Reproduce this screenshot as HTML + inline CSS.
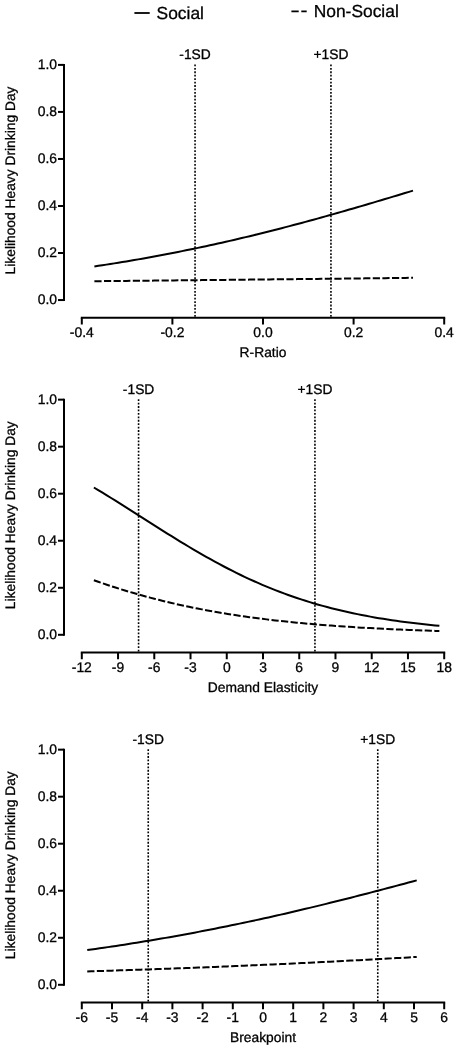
<!DOCTYPE html><html><head><meta charset="utf-8"><style>html,body{margin:0;padding:0;background:#fff;}svg{display:block;will-change:transform;}text{font-family:"Liberation Sans", sans-serif;fill:#000;stroke:#000;stroke-width:0.3px;text-rendering:geometricPrecision;}</style></head><body>
<svg width="457" height="1050" viewBox="0 0 457 1050">
<line x1="134.4" y1="13" x2="149.7" y2="13" stroke="#000" stroke-width="1.8"/>
<text x="156.6" y="18.6" font-size="17.4">Social</text>
<path d="M291.4 11.4H298.7M301.3 11.4H306.7" stroke="#000" stroke-width="1.8"/>
<text x="313.7" y="16.9" font-size="17.4">Non-Social</text>
<path d="M64 63.9V301.05" stroke="#000" stroke-width="2.0" fill="none"/>
<path d="M58 300.05H64" stroke="#000" stroke-width="2.0"/>
<text x="57" y="304.15" font-size="13.9" text-anchor="end">0.0</text>
<path d="M58 253.02H64" stroke="#000" stroke-width="2.0"/>
<text x="57" y="257.12" font-size="13.9" text-anchor="end">0.2</text>
<path d="M58 205.99H64" stroke="#000" stroke-width="2.0"/>
<text x="57" y="210.09" font-size="13.9" text-anchor="end">0.4</text>
<path d="M58 158.96H64" stroke="#000" stroke-width="2.0"/>
<text x="57" y="163.06" font-size="13.9" text-anchor="end">0.6</text>
<path d="M58 111.93H64" stroke="#000" stroke-width="2.0"/>
<text x="57" y="116.03" font-size="13.9" text-anchor="end">0.8</text>
<path d="M58 64.9H64" stroke="#000" stroke-width="2.0"/>
<text x="57" y="69" font-size="13.9" text-anchor="end">1.0</text>
<path d="M80.8 317.8H445.2" stroke="#000" stroke-width="2.0" fill="none"/>
<path d="M81.8 317.8V324.5" stroke="#000" stroke-width="2.0"/>
<text x="81.8" y="336.9" font-size="13.9" text-anchor="middle">-0.4</text>
<path d="M172.4 317.8V324.5" stroke="#000" stroke-width="2.0"/>
<text x="172.4" y="336.9" font-size="13.9" text-anchor="middle">-0.2</text>
<path d="M263 317.8V324.5" stroke="#000" stroke-width="2.0"/>
<text x="263" y="336.9" font-size="13.9" text-anchor="middle">0.0</text>
<path d="M353.6 317.8V324.5" stroke="#000" stroke-width="2.0"/>
<text x="353.6" y="336.9" font-size="13.9" text-anchor="middle">0.2</text>
<path d="M444.2 317.8V324.5" stroke="#000" stroke-width="2.0"/>
<text x="444.2" y="336.9" font-size="13.9" text-anchor="middle">0.4</text>
<text x="263" y="357.35" font-size="13.8" text-anchor="middle">R-Ratio</text>
<text transform="translate(15.15 180.48) rotate(-90)" font-size="13.8" text-anchor="middle">Likelihood Heavy Drinking Day</text>
<path d="M195.05 64.5V317.8" stroke="#000" stroke-width="1.6" stroke-dasharray="1.8 1.63"/>
<text x="195.05" y="58.8" font-size="13.8" text-anchor="middle">-1SD</text>
<path d="M330.95 64.5V317.8" stroke="#000" stroke-width="1.6" stroke-dasharray="1.8 1.63"/>
<text x="330.95" y="58.8" font-size="13.8" text-anchor="middle">+1SD</text>
<polyline points="94.39,266.45 98.38,265.86 102.36,265.25 106.34,264.63 110.32,264 114.31,263.37 118.29,262.72 122.27,262.07 126.25,261.41 130.24,260.74 134.22,260.06 138.2,259.37 142.18,258.67 146.17,257.96 150.15,257.24 154.13,256.51 158.11,255.77 162.09,255.02 166.08,254.27 170.06,253.5 174.04,252.73 178.02,251.94 182.01,251.14 185.99,250.34 189.97,249.52 193.95,248.7 197.94,247.87 201.92,247.02 205.9,246.17 209.88,245.31 213.87,244.43 217.85,243.55 221.83,242.66 225.81,241.76 229.8,240.85 233.78,239.93 237.76,239 241.74,238.06 245.73,237.11 249.71,236.16 253.69,235.19 257.67,234.22 261.66,233.23 265.64,232.24 269.62,231.24 273.6,230.23 277.59,229.21 281.57,228.18 285.55,227.15 289.53,226.11 293.52,225.05 297.5,223.99 301.48,222.93 305.46,221.85 309.44,220.77 313.43,219.68 317.41,218.59 321.39,217.48 325.37,216.37 329.36,215.26 333.34,214.13 337.32,213 341.3,211.87 345.29,210.72 349.27,209.58 353.25,208.43 357.23,207.27 361.22,206.1 365.2,204.94 369.18,203.76 373.16,202.59 377.15,201.41 381.13,200.22 385.11,199.03 389.09,197.84 393.08,196.64 397.06,195.45 401.04,194.25 405.02,193.04 409.01,191.84 412.99,190.63" fill="none" stroke="#000" stroke-width="2"/>
<polyline points="94.39,281.21 98.38,281.17 102.36,281.13 106.34,281.09 110.32,281.05 114.31,281.01 118.29,280.97 122.27,280.93 126.25,280.89 130.24,280.85 134.22,280.81 138.2,280.77 142.18,280.73 146.17,280.69 150.15,280.65 154.13,280.61 158.11,280.57 162.09,280.53 166.08,280.49 170.06,280.45 174.04,280.41 178.02,280.37 182.01,280.33 185.99,280.29 189.97,280.25 193.95,280.21 197.94,280.17 201.92,280.12 205.9,280.08 209.88,280.04 213.87,280 217.85,279.96 221.83,279.92 225.81,279.88 229.8,279.83 233.78,279.79 237.76,279.75 241.74,279.71 245.73,279.67 249.71,279.62 253.69,279.58 257.67,279.54 261.66,279.5 265.64,279.45 269.62,279.41 273.6,279.37 277.59,279.33 281.57,279.28 285.55,279.24 289.53,279.2 293.52,279.16 297.5,279.11 301.48,279.07 305.46,279.03 309.44,278.98 313.43,278.94 317.41,278.9 321.39,278.85 325.37,278.81 329.36,278.77 333.34,278.72 337.32,278.68 341.3,278.63 345.29,278.59 349.27,278.55 353.25,278.5 357.23,278.46 361.22,278.41 365.2,278.37 369.18,278.32 373.16,278.28 377.15,278.23 381.13,278.19 385.11,278.14 389.09,278.1 393.08,278.05 397.06,278.01 401.04,277.96 405.02,277.92 409.01,277.87 412.99,277.83" fill="none" stroke="#000" stroke-width="2" stroke-dasharray="7.2 2.4"/>
<path d="M64 398.65V635.8" stroke="#000" stroke-width="2.0" fill="none"/>
<path d="M58 634.8H64" stroke="#000" stroke-width="2.0"/>
<text x="57" y="638.9" font-size="13.9" text-anchor="end">0.0</text>
<path d="M58 587.77H64" stroke="#000" stroke-width="2.0"/>
<text x="57" y="591.87" font-size="13.9" text-anchor="end">0.2</text>
<path d="M58 540.74H64" stroke="#000" stroke-width="2.0"/>
<text x="57" y="544.84" font-size="13.9" text-anchor="end">0.4</text>
<path d="M58 493.71H64" stroke="#000" stroke-width="2.0"/>
<text x="57" y="497.81" font-size="13.9" text-anchor="end">0.6</text>
<path d="M58 446.68H64" stroke="#000" stroke-width="2.0"/>
<text x="57" y="450.78" font-size="13.9" text-anchor="end">0.8</text>
<path d="M58 399.65H64" stroke="#000" stroke-width="2.0"/>
<text x="57" y="403.75" font-size="13.9" text-anchor="end">1.0</text>
<path d="M80.8 652.55H445.2" stroke="#000" stroke-width="2.0" fill="none"/>
<path d="M81.8 652.55V659.25" stroke="#000" stroke-width="2.0"/>
<text x="81.8" y="671.65" font-size="13.9" text-anchor="middle">-12</text>
<path d="M118.04 652.55V659.25" stroke="#000" stroke-width="2.0"/>
<text x="118.04" y="671.65" font-size="13.9" text-anchor="middle">-9</text>
<path d="M154.28 652.55V659.25" stroke="#000" stroke-width="2.0"/>
<text x="154.28" y="671.65" font-size="13.9" text-anchor="middle">-6</text>
<path d="M190.52 652.55V659.25" stroke="#000" stroke-width="2.0"/>
<text x="190.52" y="671.65" font-size="13.9" text-anchor="middle">-3</text>
<path d="M226.76 652.55V659.25" stroke="#000" stroke-width="2.0"/>
<text x="226.76" y="671.65" font-size="13.9" text-anchor="middle">0</text>
<path d="M263 652.55V659.25" stroke="#000" stroke-width="2.0"/>
<text x="263" y="671.65" font-size="13.9" text-anchor="middle">3</text>
<path d="M299.24 652.55V659.25" stroke="#000" stroke-width="2.0"/>
<text x="299.24" y="671.65" font-size="13.9" text-anchor="middle">6</text>
<path d="M335.48 652.55V659.25" stroke="#000" stroke-width="2.0"/>
<text x="335.48" y="671.65" font-size="13.9" text-anchor="middle">9</text>
<path d="M371.72 652.55V659.25" stroke="#000" stroke-width="2.0"/>
<text x="371.72" y="671.65" font-size="13.9" text-anchor="middle">12</text>
<path d="M407.96 652.55V659.25" stroke="#000" stroke-width="2.0"/>
<text x="407.96" y="671.65" font-size="13.9" text-anchor="middle">15</text>
<path d="M444.2 652.55V659.25" stroke="#000" stroke-width="2.0"/>
<text x="444.2" y="671.65" font-size="13.9" text-anchor="middle">18</text>
<text x="263" y="692.1" font-size="13.8" text-anchor="middle">Demand Elasticity</text>
<text transform="translate(15.15 515.22) rotate(-90)" font-size="13.8" text-anchor="middle">Likelihood Heavy Drinking Day</text>
<path d="M138.58 399.25V652.55" stroke="#000" stroke-width="1.6" stroke-dasharray="1.8 1.63"/>
<text x="138.58" y="393.55" font-size="13.8" text-anchor="middle">-1SD</text>
<path d="M314.94 399.25V652.55" stroke="#000" stroke-width="1.6" stroke-dasharray="1.8 1.63"/>
<text x="314.94" y="393.55" font-size="13.8" text-anchor="middle">+1SD</text>
<polyline points="93.88,487.49 98.2,490.08 102.52,492.7 106.84,495.35 111.15,498.02 115.47,500.71 119.79,503.41 124.11,506.14 128.43,508.87 132.75,511.61 137.07,514.36 141.38,517.12 145.7,519.87 150.02,522.62 154.34,525.36 158.66,528.1 162.98,530.82 167.3,533.53 171.61,536.22 175.93,538.89 180.25,541.54 184.57,544.16 188.89,546.76 193.21,549.32 197.53,551.85 201.84,554.35 206.16,556.81 210.48,559.23 214.8,561.61 219.12,563.95 223.44,566.25 227.76,568.5 232.08,570.71 236.39,572.87 240.71,574.98 245.03,577.04 249.35,579.06 253.67,581.03 257.99,582.94 262.31,584.81 266.62,586.63 270.94,588.4 275.26,590.12 279.58,591.79 283.9,593.41 288.22,594.98 292.54,596.51 296.85,597.99 301.17,599.42 305.49,600.8 309.81,602.14 314.13,603.44 318.45,604.69 322.77,605.9 327.08,607.06 331.4,608.19 335.72,609.27 340.04,610.32 344.36,611.33 348.68,612.3 353,613.23 357.31,614.13 361.63,615 365.95,615.83 370.27,616.63 374.59,617.4 378.91,618.14 383.23,618.85 387.54,619.54 391.86,620.19 396.18,620.82 400.5,621.42 404.82,622 409.14,622.56 413.46,623.09 417.77,623.6 422.09,624.09 426.41,624.56 430.73,625.01 435.05,625.44 439.37,625.85" fill="none" stroke="#000" stroke-width="2"/>
<polyline points="93.88,580.28 98.2,581.8 102.52,583.28 106.84,584.73 111.15,586.15 115.47,587.55 119.79,588.91 124.11,590.24 128.43,591.54 132.75,592.81 137.07,594.06 141.38,595.27 145.7,596.45 150.02,597.61 154.34,598.74 158.66,599.84 162.98,600.91 167.3,601.95 171.61,602.97 175.93,603.96 180.25,604.92 184.57,605.86 188.89,606.78 193.21,607.66 197.53,608.53 201.84,609.37 206.16,610.18 210.48,610.97 214.8,611.74 219.12,612.49 223.44,613.22 227.76,613.92 232.08,614.6 236.39,615.27 240.71,615.91 245.03,616.53 249.35,617.14 253.67,617.72 257.99,618.29 262.31,618.84 266.62,619.38 270.94,619.9 275.26,620.4 279.58,620.88 283.9,621.35 288.22,621.81 292.54,622.25 296.85,622.67 301.17,623.09 305.49,623.49 309.81,623.87 314.13,624.25 318.45,624.61 322.77,624.96 327.08,625.29 331.4,625.62 335.72,625.94 340.04,626.24 344.36,626.54 348.68,626.83 353,627.1 357.31,627.37 361.63,627.63 365.95,627.88 370.27,628.12 374.59,628.35 378.91,628.57 383.23,628.79 387.54,629 391.86,629.2 396.18,629.4 400.5,629.59 404.82,629.77 409.14,629.95 413.46,630.12 417.77,630.28 422.09,630.44 426.41,630.59 430.73,630.74 435.05,630.89 439.37,631.02" fill="none" stroke="#000" stroke-width="2" stroke-dasharray="7.2 2.4"/>
<path d="M64 748.65V985.8" stroke="#000" stroke-width="2.0" fill="none"/>
<path d="M58 984.8H64" stroke="#000" stroke-width="2.0"/>
<text x="57" y="988.9" font-size="13.9" text-anchor="end">0.0</text>
<path d="M58 937.77H64" stroke="#000" stroke-width="2.0"/>
<text x="57" y="941.87" font-size="13.9" text-anchor="end">0.2</text>
<path d="M58 890.74H64" stroke="#000" stroke-width="2.0"/>
<text x="57" y="894.84" font-size="13.9" text-anchor="end">0.4</text>
<path d="M58 843.71H64" stroke="#000" stroke-width="2.0"/>
<text x="57" y="847.81" font-size="13.9" text-anchor="end">0.6</text>
<path d="M58 796.68H64" stroke="#000" stroke-width="2.0"/>
<text x="57" y="800.78" font-size="13.9" text-anchor="end">0.8</text>
<path d="M58 749.65H64" stroke="#000" stroke-width="2.0"/>
<text x="57" y="753.75" font-size="13.9" text-anchor="end">1.0</text>
<path d="M80.8 1002.55H445.2" stroke="#000" stroke-width="2.0" fill="none"/>
<path d="M81.8 1002.55V1009.25" stroke="#000" stroke-width="2.0"/>
<text x="81.8" y="1021.65" font-size="13.9" text-anchor="middle">-6</text>
<path d="M112 1002.55V1009.25" stroke="#000" stroke-width="2.0"/>
<text x="112" y="1021.65" font-size="13.9" text-anchor="middle">-5</text>
<path d="M142.2 1002.55V1009.25" stroke="#000" stroke-width="2.0"/>
<text x="142.2" y="1021.65" font-size="13.9" text-anchor="middle">-4</text>
<path d="M172.4 1002.55V1009.25" stroke="#000" stroke-width="2.0"/>
<text x="172.4" y="1021.65" font-size="13.9" text-anchor="middle">-3</text>
<path d="M202.6 1002.55V1009.25" stroke="#000" stroke-width="2.0"/>
<text x="202.6" y="1021.65" font-size="13.9" text-anchor="middle">-2</text>
<path d="M232.8 1002.55V1009.25" stroke="#000" stroke-width="2.0"/>
<text x="232.8" y="1021.65" font-size="13.9" text-anchor="middle">-1</text>
<path d="M263 1002.55V1009.25" stroke="#000" stroke-width="2.0"/>
<text x="263" y="1021.65" font-size="13.9" text-anchor="middle">0</text>
<path d="M293.2 1002.55V1009.25" stroke="#000" stroke-width="2.0"/>
<text x="293.2" y="1021.65" font-size="13.9" text-anchor="middle">1</text>
<path d="M323.4 1002.55V1009.25" stroke="#000" stroke-width="2.0"/>
<text x="323.4" y="1021.65" font-size="13.9" text-anchor="middle">2</text>
<path d="M353.6 1002.55V1009.25" stroke="#000" stroke-width="2.0"/>
<text x="353.6" y="1021.65" font-size="13.9" text-anchor="middle">3</text>
<path d="M383.8 1002.55V1009.25" stroke="#000" stroke-width="2.0"/>
<text x="383.8" y="1021.65" font-size="13.9" text-anchor="middle">4</text>
<path d="M414 1002.55V1009.25" stroke="#000" stroke-width="2.0"/>
<text x="414" y="1021.65" font-size="13.9" text-anchor="middle">5</text>
<path d="M444.2 1002.55V1009.25" stroke="#000" stroke-width="2.0"/>
<text x="444.2" y="1021.65" font-size="13.9" text-anchor="middle">6</text>
<text x="263" y="1042.1" font-size="13.8" text-anchor="middle">Breakpoint</text>
<text transform="translate(15.15 865.22) rotate(-90)" font-size="13.8" text-anchor="middle">Likelihood Heavy Drinking Day</text>
<path d="M148.24 749.25V1002.55" stroke="#000" stroke-width="1.6" stroke-dasharray="1.8 1.63"/>
<text x="148.24" y="743.55" font-size="13.8" text-anchor="middle">-1SD</text>
<path d="M377.76 749.25V1002.55" stroke="#000" stroke-width="1.6" stroke-dasharray="1.8 1.63"/>
<text x="377.76" y="743.55" font-size="13.8" text-anchor="middle">+1SD</text>
<polyline points="87.24,950.04 91.35,949.47 95.47,948.89 99.59,948.31 103.71,947.72 107.83,947.12 111.95,946.51 116.07,945.89 120.18,945.27 124.3,944.64 128.42,944 132.54,943.35 136.66,942.69 140.78,942.03 144.9,941.36 149.01,940.68 153.13,939.99 157.25,939.29 161.37,938.59 165.49,937.87 169.61,937.15 173.73,936.42 177.84,935.68 181.96,934.94 186.08,934.18 190.2,933.42 194.32,932.65 198.44,931.87 202.55,931.09 206.67,930.29 210.79,929.49 214.91,928.67 219.03,927.85 223.15,927.03 227.27,926.19 231.38,925.35 235.5,924.49 239.62,923.63 243.74,922.77 247.86,921.89 251.98,921.01 256.1,920.12 260.21,919.22 264.33,918.31 268.45,917.4 272.57,916.47 276.69,915.54 280.81,914.61 284.93,913.66 289.04,912.71 293.16,911.76 297.28,910.79 301.4,909.82 305.52,908.84 309.64,907.86 313.75,906.86 317.87,905.87 321.99,904.86 326.11,903.85 330.23,902.83 334.35,901.81 338.47,900.78 342.58,899.75 346.7,898.71 350.82,897.67 354.94,896.62 359.06,895.56 363.18,894.5 367.3,893.44 371.41,892.37 375.53,891.3 379.65,890.22 383.77,889.14 387.89,888.05 392.01,886.96 396.13,885.87 400.24,884.77 404.36,883.68 408.48,882.57 412.6,881.47 416.72,880.36" fill="none" stroke="#000" stroke-width="2"/>
<polyline points="87.24,971.42 91.35,971.29 95.47,971.16 99.59,971.03 103.71,970.9 107.83,970.77 111.95,970.64 116.07,970.51 120.18,970.37 124.3,970.23 128.42,970.1 132.54,969.96 136.66,969.82 140.78,969.68 144.9,969.53 149.01,969.39 153.13,969.24 157.25,969.1 161.37,968.95 165.49,968.8 169.61,968.65 173.73,968.5 177.84,968.35 181.96,968.19 186.08,968.04 190.2,967.88 194.32,967.72 198.44,967.56 202.55,967.4 206.67,967.24 210.79,967.08 214.91,966.91 219.03,966.75 223.15,966.58 227.27,966.41 231.38,966.24 235.5,966.07 239.62,965.89 243.74,965.72 247.86,965.54 251.98,965.36 256.1,965.18 260.21,965 264.33,964.82 268.45,964.64 272.57,964.45 276.69,964.26 280.81,964.08 284.93,963.89 289.04,963.69 293.16,963.5 297.28,963.31 301.4,963.11 305.52,962.91 309.64,962.71 313.75,962.51 317.87,962.31 321.99,962.1 326.11,961.9 330.23,961.69 334.35,961.48 338.47,961.27 342.58,961.05 346.7,960.84 350.82,960.62 354.94,960.4 359.06,960.18 363.18,959.96 367.3,959.74 371.41,959.51 375.53,959.29 379.65,959.06 383.77,958.83 387.89,958.59 392.01,958.36 396.13,958.12 400.24,957.88 404.36,957.65 408.48,957.4 412.6,957.16 416.72,956.91" fill="none" stroke="#000" stroke-width="2" stroke-dasharray="7.2 2.4"/>
</svg></body></html>
